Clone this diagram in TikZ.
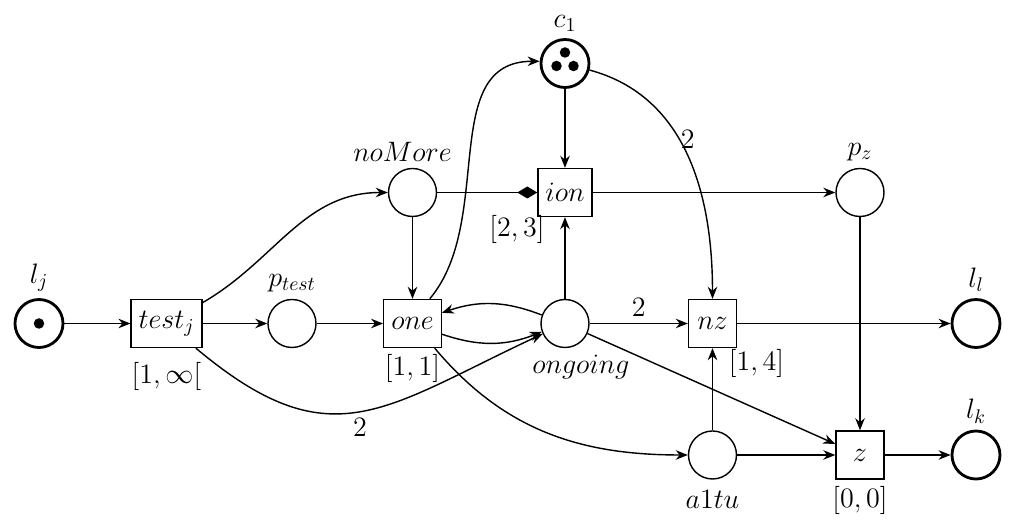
\RequirePackage{fix-cm}
\documentclass[tikz,border=0pt]{standalone}
\usepackage{tikz}
\usetikzlibrary{arrows.meta, positioning}

\begin{document}
\begin{tikzpicture}[>={Stealth[length=2.4mm,width=1.9mm]}, line width=0.8pt,
    every node/.style={font=\fontsize{16}{19}\selectfont},
    place/.style={circle, draw, minimum size=0.96cm, inner sep=0pt},
    bigplace/.style={place, line width=1.6pt},
    transition/.style={rectangle, draw, minimum size=0.96cm, inner xsep=0.15cm}]
        \useasboundingbox (0,0) rectangle (20.48,10.54);

        \node[bigplace, label={above:$l_j$}] (lj) at (0.78,4.07) {};
        \node[transition, label={[yshift=-1.5mm]below:{$[1,\infty[$}}] (testj) at (3.33,4.07) {$test_j$};
        \node[place, label={above:$p_{test}$}] (ptest) at (5.84,4.07) {};
        \node[transition, label={below:{$[1,1]$}}] (one) at (8.25,4.07) {$one$};
        \node[place, label={[xshift=3.2mm]below:$ongoing$}] (ongoing) at (11.3,4.07) {};
        \node[transition, label={[xshift=8.8mm,yshift=1mm]below:{$[1,4]$}}] (nz) at (14.25,4.07) {$nz$};
        \node[bigplace, label={above:$l_l$}] (ll) at (19.52,4.07) {};
        \node[place, label={[xshift=-2mm]above:$noMore$}] (nomore) at (8.25,6.69) {};
        \node[transition, label={[xshift=-9.6mm,yshift=1.6mm]below:{$[2,3]$}}] (ion) at (11.3,6.69) {$ion$};
        \node[place, label={above:$p_z$}] (pz) at (17.2,6.69) {};
        \node[bigplace, label={above:$c_1$}] (c1) at (11.3,9.27) {};
        \node[place, label={[yshift=-0.8mm]below:$a1tu$}] (a1tu) at (14.25,1.44) {};
        \node[transition, label={below:{$[0,0]$}}] (z) at (17.2,1.44) {$z$};
        \node[bigplace, label={above:$l_k$}] (lk) at (19.52,1.44) {};

        % tokens
        \fill (lj.center) circle (0.105);
        \fill ([yshift=2.2mm]c1.center) circle (0.105);
        \fill ([shift={(-1.7mm,-0.5mm)}]c1.center) circle (0.105);
        \fill ([shift={(1.7mm,-0.5mm)}]c1.center) circle (0.105);

        \draw[->] (lj) -- (testj);
        \draw[->] (testj) -- (ptest);
        \draw[->] (ptest) -- (one);
        \draw[->] (testj) to[out=30,in=180] (nomore);
        \draw[->] (testj) to[out=-40,in=205,looseness=1.3] node[below] {$2$} (ongoing);
        \draw[->] (nomore) -- (one);
        \draw[-{Diamond[length=4mm,width=2.4mm]}] (nomore) -- (ion);
        \draw[->] (c1) -- (ion);
        \draw[->] (ongoing) -- (ion);
        \draw[->] (ion) -- (pz);
        \draw[->] (pz) -- (z);
        \draw[->] (one.55) to[out=50,in=180] (c1.175);
        \draw[->] (c1) to[out=-15,in=90] node[pos=0.43,right,inner sep=0.5pt] {$2$} (nz);
        \draw[->] (ongoing) to[bend right=20] (one);
        \draw[->] (one) to[bend right=20] (ongoing);
        \draw[->] (ongoing) -- node[above] {$2$} (nz);
        \draw[->] (ongoing) -- (z);
        \draw[->] (one.-48) to[out=-50,in=180] (a1tu);
        \draw[->] (a1tu) -- (nz);
        \draw[->] (a1tu) -- (z);
        \draw[->] (z) -- (lk);
        \draw[->] (nz) -- (ll);
    \end{tikzpicture}
\end{document}
